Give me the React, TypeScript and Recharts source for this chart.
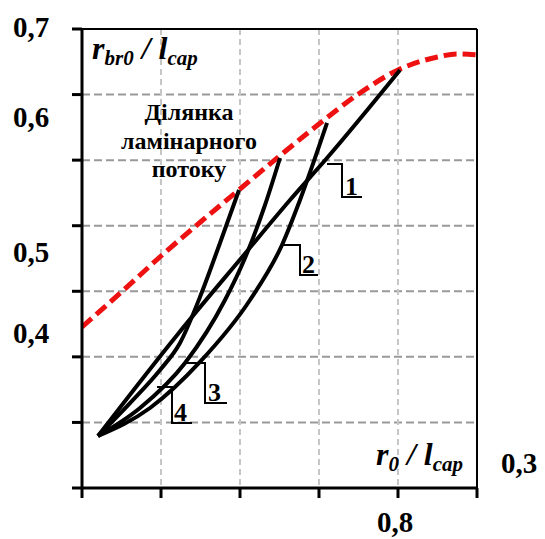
import React from 'react';
import { LineChart, Line, XAxis, YAxis, CartesianGrid, ReferenceLine } from 'recharts';

// axis ticks (data units)
const xTicks = [0, 0.2, 0.4, 0.6, 0.8, 1.0];
const yTicks = [0, 0.1, 0.2, 0.3, 0.4, 0.5, 0.6, 0.7];

// tick labels as printed in the figure
const yTickLabels = ['0,7', '0,6', '0,5', '0,4'];
const xTickLabels = ['0,8'];
const rightLabel = '0,3';

// laminar flow boundary (red dashed)
const laminarX = [0, 0.1, 0.2, 0.3, 0.4, 0.5, 0.6, 0.7, 0.8, 0.9, 0.95, 1.0];
const laminarY = [0.2455, 0.2989, 0.3538, 0.4057, 0.456, 0.5063, 0.5551, 0.6009, 0.6375, 0.6573, 0.6619, 0.6604];

// curve 1
const c1X = [0.0405, 0.243, 0.4076, 0.5266, 0.6203, 0.8051];
const c1Y = [0.0793, 0.2349, 0.3538, 0.4392, 0.5033, 0.6375];
// curve 2
const c2X = [0.0405, 0.1722, 0.2987, 0.4253, 0.5063, 0.5519, 0.6203];
const c2Y = [0.0793, 0.122, 0.1922, 0.2867, 0.3706, 0.4392, 0.5567];
// curve 3
const c3X = [0.0405, 0.1468, 0.2608, 0.362, 0.4127, 0.4633, 0.5013];
const c3Y = [0.0793, 0.122, 0.1906, 0.2867, 0.3508, 0.4316, 0.5033];
// curve 4
const c4X = [0.0405, 0.1215, 0.1975, 0.2481, 0.2987, 0.3494, 0.3975];
const c4Y = [0.0793, 0.1296, 0.18, 0.2212, 0.2913, 0.3737, 0.4545];

// leader lines for curve numbers
const l1X = [0.6203, 0.6582, 0.6582, 0.7089];
const l1Y = [0.4941, 0.4941, 0.4438, 0.4438];
const l2X = [0.5063, 0.5519, 0.5519, 0.5975];
const l2Y = [0.3706, 0.3706, 0.3248, 0.3248];
const l3X = [0.2608, 0.3114, 0.3114, 0.3671];
const l3Y = [0.1906, 0.1906, 0.1296, 0.1296];
const l4X = [0.1899, 0.2278, 0.2278, 0.2785];
const l4Y = [0.154, 0.154, 0.0991, 0.0991];

const curveNames = ['1', '2', '3', '4'];
const regionText = ['Ділянка', 'ламінарного', 'потоку'];

const zip = (xs: number[], ys: number[]) => xs.map((x, i) => ({ x, y: ys[i] }));

const FONT = 'Liberation Serif';

const NoTick = () => <g />;

export default function App() {
  const curves = [zip(c1X, c1Y), zip(c2X, c2Y), zip(c3X, c3Y), zip(c4X, c4Y)];
  const leaders = [zip(l1X, l1Y), zip(l2X, l2Y), zip(l3X, l3Y), zip(l4X, l4Y)];
  const numPos = [
    [345, 195],
    [302, 273],
    [208, 401],
    [174, 421],
  ];
  const yLabelPos = [37, 127, 262, 343];
  return (
    <div style={{ position: 'absolute', left: 0, top: 0, width: 545, height: 539, background: '#fff' }}>
      <LineChart width={545} height={539} margin={{ top: 29, right: 68, bottom: 31, left: 62 }}>
        <CartesianGrid vertical={false} stroke="#999" strokeWidth={2} strokeDasharray="8 4" />
        <CartesianGrid horizontal={false} stroke="#c6c6c6" strokeWidth={2} strokeDasharray="6 4" />
        <XAxis
          type="number"
          dataKey="x"
          domain={[0, 1]}
          ticks={xTicks}
          height={20}
          tick={<NoTick />}
          tickSize={10}
          tickLine={{ stroke: '#000', strokeWidth: 3 }}
          axisLine={{ stroke: '#000', strokeWidth: 3 }}
          allowDataOverflow
        />
        <YAxis
          type="number"
          domain={[0, 0.7]}
          ticks={yTicks}
          width={20}
          tick={<NoTick />}
          tickSize={10}
          tickLine={{ stroke: '#000', strokeWidth: 3 }}
          axisLine={{ stroke: '#000', strokeWidth: 3 }}
          allowDataOverflow
        />
        <ReferenceLine y={0.7} stroke="#000" strokeWidth={2} />
        <ReferenceLine x={1} stroke="#000" strokeWidth={2} />
        <Line
          data={zip(laminarX, laminarY)}
          dataKey="y"
          type="monotone"
          stroke="#ee1111"
          strokeWidth={5}
          strokeDasharray="13 6"
          dot={false}
          isAnimationActive={false}
        />
        {curves.map((d, i) => (
          <Line
            key={'c' + i}
            data={d}
            dataKey="y"
            type="monotone"
            stroke="#000"
            strokeWidth={4}
            dot={false}
            isAnimationActive={false}
          />
        ))}
        {leaders.map((d, i) => (
          <Line
            key={'l' + i}
            data={d}
            dataKey="y"
            type="linear"
            stroke="#000"
            strokeWidth={2}
            dot={false}
            isAnimationActive={false}
          />
        ))}
      </LineChart>
      <svg
        width={545}
        height={539}
        style={{ position: 'absolute', left: 0, top: 0, pointerEvents: 'none' }}
        fontWeight="bold"
        fontFamily={FONT}
      >
        {yTickLabels.map((t, i) => (
          <text key={t} x={13} y={yLabelPos[i]} fontSize={29} fontFamily={FONT}>
            {t}
          </text>
        ))}
        <text x={501} y={473} fontSize={29} fontFamily={FONT}>
          {rightLabel}
        </text>
        <text x={377} y={532} fontSize={29} fontFamily={FONT}>
          {xTickLabels[0]}
        </text>
        {regionText.map((t, i) => (
          <text key={t} x={189} y={120 + i * 28.5} fontSize={24} textAnchor="middle" fontFamily={FONT}>
            {t}
          </text>
        ))}
        {curveNames.map((t, i) => (
          <text key={t} x={numPos[i][0]} y={numPos[i][1]} fontSize={26} fontFamily={FONT}>
            {t}
          </text>
        ))}
        <text x={92} y={59} fontSize={32} fontStyle="italic" fontFamily={FONT}>
          r
          <tspan fontSize={21} dy={6}>br0</tspan>
          <tspan fontSize={32} dy={-6}> / l</tspan>
          <tspan fontSize={21} dy={6}>cap</tspan>
        </text>
        <text x={376} y={465} fontSize={32} fontStyle="italic" fontFamily={FONT}>
          r
          <tspan fontSize={21} dy={6}>0</tspan>
          <tspan fontSize={32} dy={-6}> / l</tspan>
          <tspan fontSize={21} dy={6}>cap</tspan>
        </text>
      </svg>
    </div>
  );
}
